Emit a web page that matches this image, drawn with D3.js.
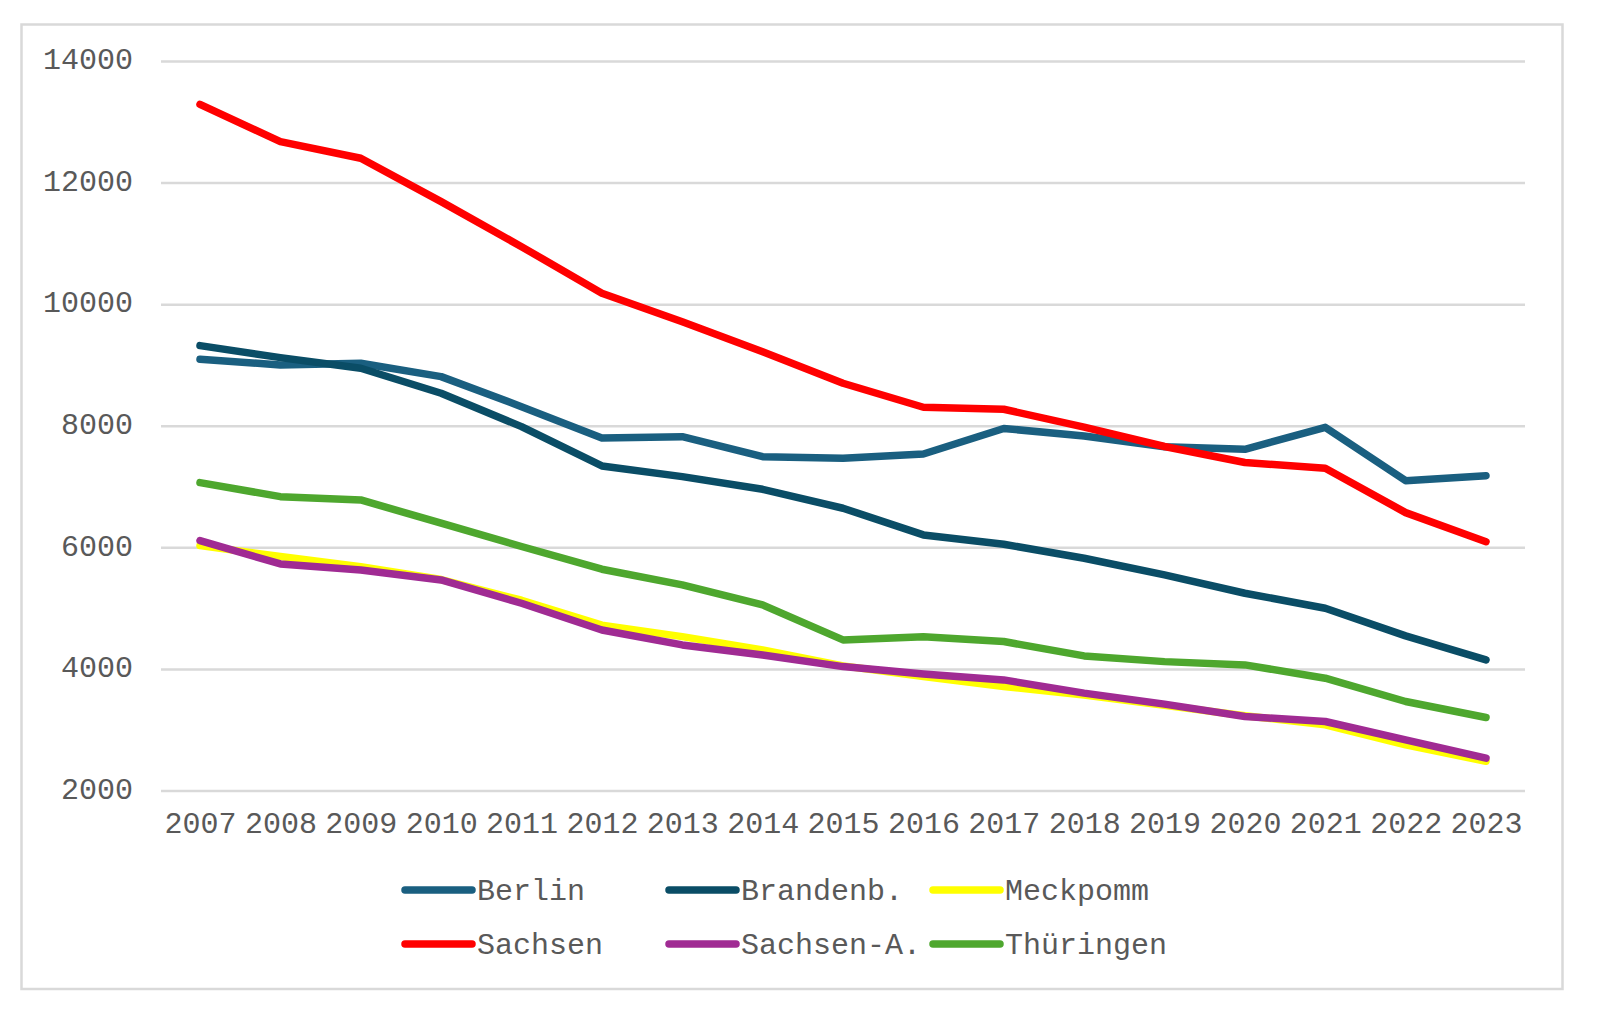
<!DOCTYPE html>
<html>
<head>
<meta charset="utf-8">
<script src="https://cdn.jsdelivr.net/npm/d3@7"></script>
<style>
  html, body { margin: 0; padding: 0; background: #fff; }
  svg { display: block; }
  text { font-family: "Liberation Mono", "Courier New", monospace; }
</style>
</head>
<body>
<svg id="chart" width="1600" height="1013"></svg>
<script>
const years = [2007,2008,2009,2010,2011,2012,2013,2014,2015,2016,2017,2018,2019,2020,2021,2022,2023];
const yTicks = [2000,4000,6000,8000,10000,12000,14000];

const seriesNames  = ["Berlin","Brandenb.","Meckpomm","Sachsen","Sachsen-A.","Thüringen"];
const seriesColors = ["#1a5f80","#0a4d66","#ffff00","#ff0000","#a02b93","#4ea72e"];

const berlin     = [9094,9000,9028,8808,8314,7800,7821,7492,7466,7536,7955,7832,7656,7613,7974,7097,7179];
const brandenb   = [9318,9120,8946,8535,7985,7339,7163,6955,6643,6204,6051,5820,5546,5245,4998,4543,4148];
const meckpomm   = [6028,5848,5683,5470,5130,4720,4531,4312,4050,3875,3710,3570,3400,3230,3080,2750,2480];
const sachsen    = [13288,12673,12400,11686,10946,10180,9712,9219,8699,8304,8271,7978,7659,7396,7302,6571,6093];
const sachsenA   = [6110,5727,5628,5464,5080,4640,4395,4230,4038,3918,3819,3602,3421,3217,3135,2834,2533];
const thueringen = [7064,6834,6780,6397,6014,5640,5382,5053,4477,4531,4450,4214,4120,4066,3847,3464,3201];

const seriesValues = [berlin, brandenb, meckpomm, sachsen, sachsenA, thueringen];

const svg = d3.select("#chart");
const textColor = "#595959";
const gridColor = "#d9d9d9";

// outer frame
svg.append("rect")
  .attr("x", 21.5).attr("y", 24.5).attr("width", 1541).attr("height", 964.5)
  .attr("fill", "#fff").attr("stroke", gridColor).attr("stroke-width", 2.5);

const gridLeft = 161, gridRight = 1525;
const x = d3.scaleLinear().domain([2007, 2023]).range([200, 1486]);
const y = d3.scaleLinear().domain([2000, 14000]).range([790.5, 61]);

// y axis with gridlines
const yAxis = d3.axisLeft(y).tickValues(yTicks).tickSize(-(gridRight - gridLeft)).tickPadding(28).tickFormat(d3.format("d"));
const gy = svg.append("g").attr("transform", `translate(${gridLeft},0)`).call(yAxis);
gy.select(".domain").remove();
gy.selectAll(".tick line").attr("stroke", gridColor).attr("stroke-width", 2.5);
gy.selectAll(".tick text").attr("fill", textColor).attr("font-size", 30)
  .attr("font-family", '"Liberation Mono", "Courier New", monospace').attr("dy", "0.26em");

// x axis
const xAxis = d3.axisBottom(x).tickValues(years).tickSize(0).tickPadding(21).tickFormat(d3.format("d"));
const gx = svg.append("g").attr("transform", `translate(0,${y(2000)})`).call(xAxis);
gx.select(".domain").remove();
gx.selectAll(".tick text").attr("fill", textColor).attr("font-size", 30)
  .attr("font-family", '"Liberation Mono", "Courier New", monospace');

// lines
const line = d3.line().x((d, i) => x(years[i])).y(d => y(d));
seriesValues.forEach((vals, k) => {
  svg.append("path")
    .datum(vals)
    .attr("d", line)
    .attr("fill", "none")
    .attr("stroke", seriesColors[k])
    .attr("stroke-width", 7.5)
    .attr("stroke-linejoin", "round")
    .attr("stroke-linecap", "round");
});

// legend
const legendCols = [405, 669, 933];
const legendRows = [890, 944];
seriesNames.forEach((name, k) => {
  const cx = legendCols[k % 3], cy = legendRows[Math.floor(k / 3)];
  const g = svg.append("g").attr("transform", `translate(${cx},${cy})`);
  g.append("line").attr("x1", 0).attr("x2", 67).attr("y1", 0).attr("y2", 0)
    .attr("stroke", seriesColors[k]).attr("stroke-width", 7.5).attr("stroke-linecap", "round");
  g.append("text").attr("x", 72).attr("y", 0).attr("dy", "0.32em")
    .attr("fill", textColor).attr("font-size", 30).text(name);
});
</script>
</body>
</html>
